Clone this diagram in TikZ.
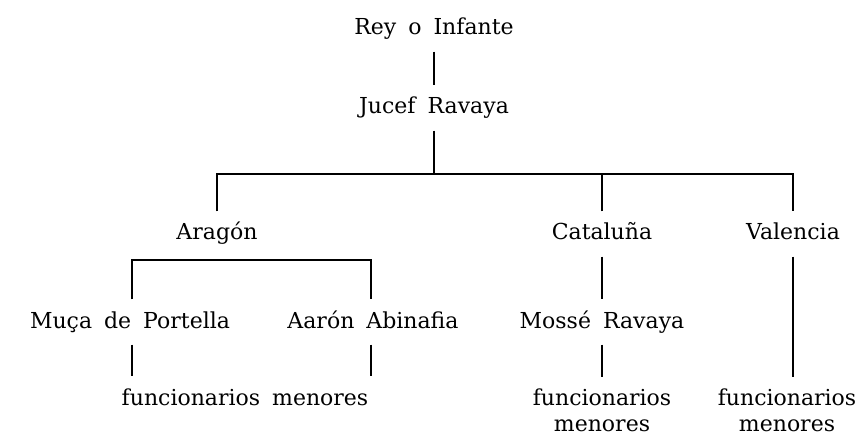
\documentclass[tikz,border=0pt]{standalone}
\usepackage{fontspec}
\setmainfont{DejaVu Serif}
\usetikzlibrary{positioning,calc}

\begin{document}
\begin{tikzpicture}[x=1pt,y=-1pt,
  every path/.style={line width=1.1pt},
  lbl/.style={font={\fontsize{22}{28}\selectfont\spaceskip=12pt plus 2pt},anchor=base,
    text height=17pt,text depth=5pt,inner xsep=2pt,inner ysep=11pt},
  lbltwo/.style={font={\fontsize{22}{26}\selectfont},anchor=north,align=center,
    inner xsep=1pt,inner ysep=11pt}]
  \useasboundingbox (0,0) rectangle (858,438);

  % Top of the chain
  \node[lbl] (rey) at (434,35) {Rey o Infante};
  \node[lbl] (jucef) at (434,114) {Jucef Ravaya};
  \coordinate (topbar) at (434,174);

  % Kingdoms
  \node[lbl] (aragon) at (217,240) {Aragón};
  \node[lbl] (cataluna) at (602,240) {Cataluña};
  \node[lbl] (valencia) at (793,240) {Valencia};
  \coordinate (arbar) at (217,260);

  % Officials
  \node[lbl] (muca) at (130,328) {Muça de Portella};
  \node[lbl] (aaron) at (373,328) {Aarón Abinafia};
  \node[lbl] (mosse) at (602,328) {Mossé Ravaya};

  % Lower officials
  \node[lbl] (funcar) at (245,405) {funcionarios menores};
  \node[lbltwo] (funccat) at (602,377) {funcionarios\\menores};
  \node[lbltwo] (funcval) at (787,377) {funcionarios\\menores};

  % Connectors
  \draw (rey) -- (jucef);
  \draw (jucef) -- (topbar);
  \draw (aragon.north) |- (topbar) -| (valencia.north);
  \draw (cataluna.north) -- (cataluna |- topbar);
  \draw (muca.north -| 132,0) |- (arbar) -| (aaron.north -| 371,0);
  \draw (cataluna) -- (mosse);
  \draw (mosse) -- (funccat);
  \draw (valencia) -- (valencia |- funcval.north);
  \draw (muca.south -| 132,0) -- (funcar.north -| 132,0);
  \draw (aaron.south -| 371,0) -- (funcar.north -| 371,0);
\end{tikzpicture}
\end{document}
